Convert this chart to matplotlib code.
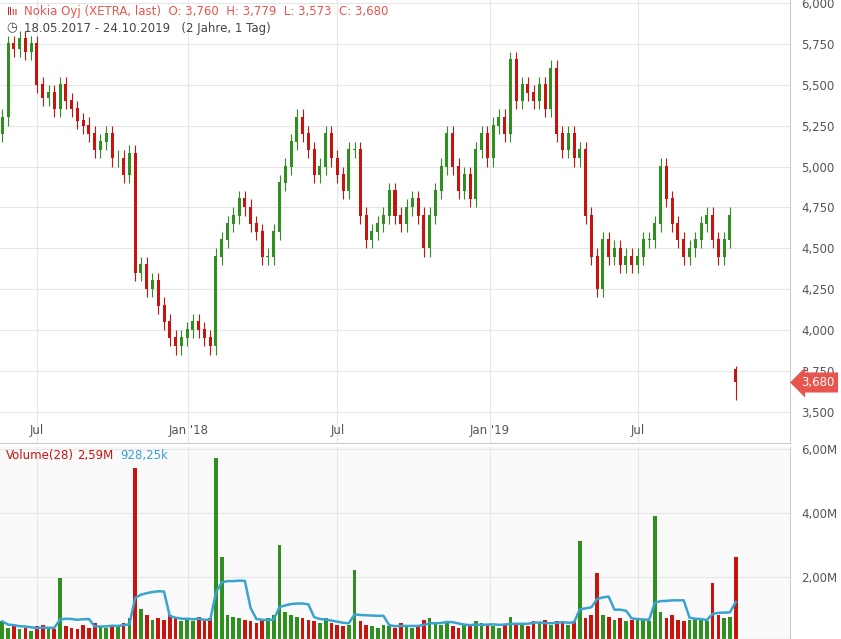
import matplotlib.pyplot as plt
import numpy as np
import pandas as pd

# weekly closes (EUR), 18.05.2017 - 24.10.2019
closes = [5.30, 5.75, 5.72, 5.78, 5.70, 5.75, 5.50, 5.42, 5.45, 5.35,
          5.50, 5.40, 5.35, 5.28, 5.25, 5.20, 5.10, 5.15, 5.20, 5.05,
          5.05, 4.95, 5.08, 4.35, 4.40, 4.25, 4.30, 4.15, 4.05, 3.95,
          3.90, 3.95, 4.00, 4.05, 4.00, 3.95, 3.90, 4.45, 4.55, 4.65,
          4.70, 4.80, 4.75, 4.65, 4.60, 4.45, 4.45, 4.60, 4.90, 5.00,
          5.15, 5.30, 5.20, 5.10, 4.95, 5.00, 5.20, 5.05, 4.95, 4.85,
          5.10, 5.10, 4.70, 4.55, 4.60, 4.65, 4.70, 4.85, 4.70, 4.65,
          4.75, 4.80, 4.70, 4.50, 4.70, 4.85, 5.00, 5.20, 5.00, 4.85,
          4.95, 4.80, 5.10, 5.20, 5.05, 5.25, 5.30, 5.20, 5.65, 5.40,
          5.50, 5.45, 5.40, 5.50, 5.35, 5.60, 5.20, 5.10, 5.20, 5.05,
          5.10, 4.70, 4.45, 4.25, 4.55, 4.45, 4.50, 4.40, 4.45, 4.40,
          4.45, 4.55, 4.55, 4.65, 5.00, 4.80, 4.65, 4.55, 4.45, 4.50,
          4.55, 4.65, 4.70, 4.55, 4.45, 4.55, 4.70, 3.68]
first_open = 5.20
last_open = 3.76

# weekly peak volume (millions)
volumes = [0.60, 0.40, 0.45, 0.35, 0.40, 0.30, 0.45, 0.50, 0.40, 0.35,
           1.95, 0.45, 0.40, 0.35, 0.50, 0.40, 0.55, 0.45, 0.40, 0.50,
           0.45, 0.55, 0.70, 5.40, 1.00, 0.80, 0.65, 0.70, 0.65, 0.80,
           0.70, 0.60, 0.65, 0.60, 0.75, 0.60, 0.70, 5.70, 2.60, 0.80,
           0.75, 0.70, 0.65, 0.60, 0.55, 0.65, 0.70, 0.80, 3.00, 0.90,
           0.80, 0.75, 0.70, 0.65, 0.60, 0.55, 0.70, 0.55, 0.50, 0.45,
           0.50, 2.20, 0.60, 0.50, 0.45, 0.40, 0.50, 0.45, 0.40, 0.55,
           0.45, 0.40, 0.50, 0.65, 0.70, 0.55, 0.50, 0.60, 0.45, 0.40,
           0.50, 0.45, 0.60, 0.55, 0.50, 0.45, 0.40, 0.50, 0.75, 0.55,
           0.50, 0.45, 0.60, 0.55, 0.65, 0.50, 0.60, 0.55, 0.50, 0.60,
           3.10, 0.70, 0.80, 2.10, 0.80, 0.75, 0.65, 0.70, 0.60, 0.65,
           0.70, 0.65, 0.60, 3.90, 0.90, 0.70, 0.80, 0.65, 0.60, 0.65,
           0.70, 0.65, 0.60, 1.80, 0.80, 0.70, 0.75, 2.60]

days = pd.bdate_range("2017-05-18", "2019-10-24")
n = len(closes)
xw = np.arange(n) * 5 + 2
opens = [first_open] + closes[:-1]
opens[-1] = last_open

green = "#2f8f1f"
red = "#c8140f"
cols = [green if c >= o else red for o, c in zip(opens, closes)]

fig = plt.figure(figsize=(8.41, 6.39), dpi=100)
ax = fig.add_axes([0, 196 / 639, 790 / 841, 443 / 639])
axv = fig.add_axes([0, 0, 790 / 841, 192 / 639])

for a in (ax, axv):
    a.set_xlim(0, 684)
    for s in ("left", "top"):
        a.spines[s].set_visible(False)
    a.spines["right"].set_color("#cccccc")
    a.spines["bottom"].set_color("#cccccc")
    a.yaxis.tick_right()
    a.tick_params(axis="y", length=0, labelsize=8.5, labelcolor="#555555", pad=8)
    a.tick_params(axis="x", length=0)
    a.grid(color="#e6e6e6", linewidth=0.8)
    a.set_axisbelow(True)

# candles
for x, o, c, col in zip(xw, opens, closes, cols):
    hi = max(o, c) + 0.05
    lo = min(o, c) - 0.05
    if x == xw[-1]:
        hi, lo = 3.779, 3.573
    ax.vlines(x, lo, hi, color=col, linewidth=0.8)
    ax.bar(x, abs(c - o) + 0.005, bottom=min(o, c), width=2.6, color=col)

ax.set_ylim(3.31, 6.018)
yt = np.arange(3.5, 6.01, 0.25)
ax.set_yticks(yt)
ax.set_yticklabels([f"{v:,.3f}".replace(".", ",") for v in yt])

# month ticks
months = ["2017-07-03", "2018-01-02", "2018-07-02", "2019-01-02", "2019-07-01"]
mlabels = ["Jul", "Jan '18", "Jul", "Jan '19", "Jul"]
mpos = [days.searchsorted(pd.Timestamp(m)) for m in months]
ax.set_xticks(mpos)
ax.set_xticklabels(mlabels, fontsize=8.5, color="#555555")
ax.tick_params(axis="x", pad=-14)
axv.set_xticks(mpos)
axv.set_xticklabels([])

# price tag
ax.annotate("3,680", xy=(1.0, 3.68), xycoords=("axes fraction", "data"),
            xytext=(8, 0), textcoords="offset points", va="center", ha="left",
            fontsize=8.5, color="white",
            bbox=dict(boxstyle="larrow,pad=0.3", fc="#e8554e", ec="none"),
            annotation_clip=False)

fig.text(0.008, 0.982, "\u2161\u0131\u0131", fontsize=7, color="#c8140f", va="center")
fig.text(0.028, 0.982, "Nokia Oyj (XETRA, last)  O: 3,760  H: 3,779  L: 3,573  C: 3,680",
         fontsize=8.5, color="#e8554e", va="center")
fig.text(0.008, 0.956, "\u25f7", fontsize=9, color="#444444", va="center")
fig.text(0.028, 0.956, "18.05.2017 - 24.10.2019   (2 Jahre, 1 Tag)",
         fontsize=8.5, color="#444444", va="center")

# volume
axv.bar(xw, volumes, width=3.2, color=cols)
ma = pd.Series(volumes).rolling(6, min_periods=1).mean()
axv.plot(xw, ma, color="#3aa3d0", linewidth=1.8)
axv.set_ylim(0.05, 6.05)
axv.set_yticks([2, 4, 6])
axv.set_yticklabels(["2,00M", "4,00M", "6,00M"])
axv.set_facecolor("#fafafa")
axv.text(0.008, 0.94, "Volume(28)", transform=axv.transAxes, fontsize=8.5, color="#c8140f")
axv.text(0.098, 0.94, "2,59M", transform=axv.transAxes, fontsize=8.5, color="#c8140f")
axv.text(0.152, 0.94, "928,25k", transform=axv.transAxes, fontsize=8.5, color="#3aa3d0")

fig.savefig("out.png", dpi=100)
